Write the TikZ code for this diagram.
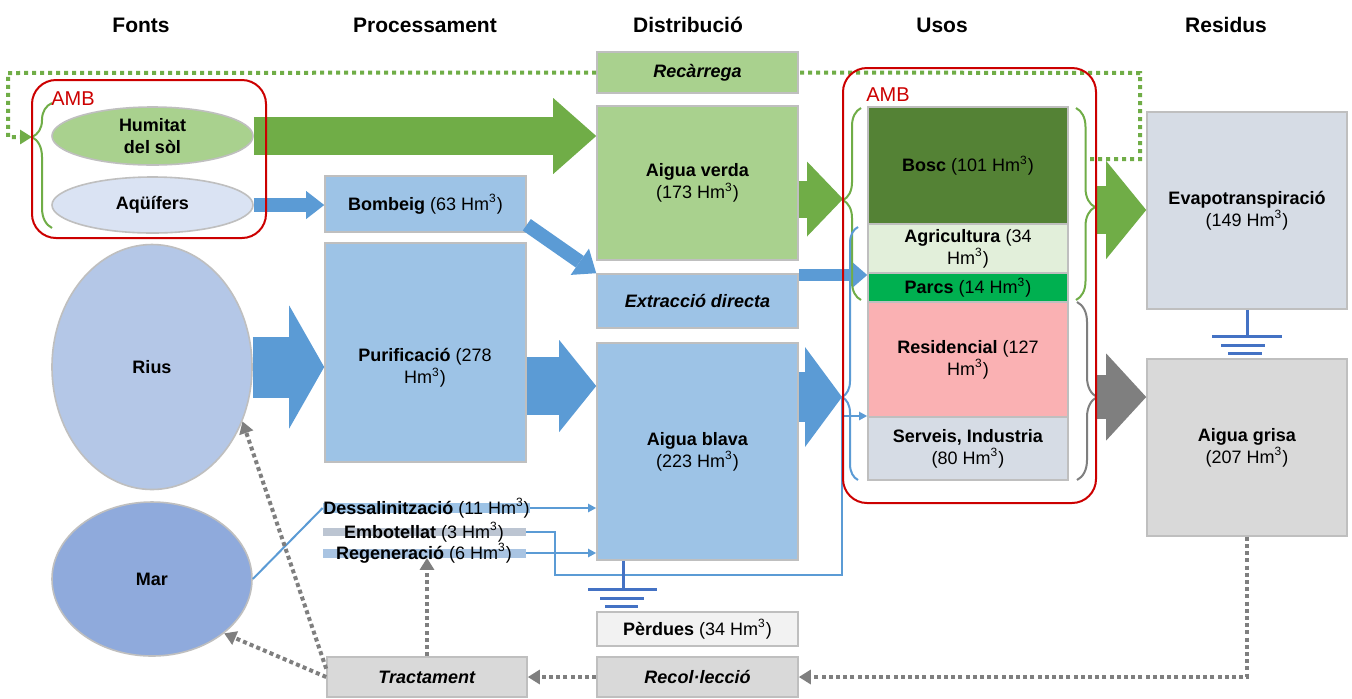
\documentclass[tikz,border=0pt]{standalone}
\usepackage{fontspec}
\setmainfont{Liberation Sans}
\usetikzlibrary{shapes.geometric,arrows.meta,decorations.pathreplacing,calc}
\definecolor{cgreen}{HTML}{70AD47}
\definecolor{cblue}{HTML}{5B9BD5}
\definecolor{cgrayar}{HTML}{7F7F7F}
\definecolor{cbord}{HTML}{BFBFBF}
\definecolor{cred}{HTML}{CC0000}
\definecolor{cverda}{HTML}{A9D18E}
\definecolor{cblau}{HTML}{9DC3E6}
\definecolor{cperd}{HTML}{F2F2F2}
\definecolor{cgris}{HTML}{D9D9D9}
\definecolor{cbosc}{HTML}{548235}
\definecolor{cagri}{HTML}{E2EFDA}
\definecolor{cparc}{HTML}{00B050}
\definecolor{cresi}{HTML}{FAB1B3}
\definecolor{cserv}{HTML}{D6DCE5}
\definecolor{caq}{HTML}{DAE3F3}
\definecolor{crius}{HTML}{B4C7E7}
\definecolor{cmar}{HTML}{8FAADC}
\definecolor{cgnd}{HTML}{4472C4}
\definecolor{cdesb}{HTML}{9DC3E6}
\definecolor{cembb}{HTML}{BCC5D2}
\definecolor{cregb}{HTML}{A9C4E2}
\newcommand{\bodyf}{\fontsize{9}{11}\selectfont}
\newcommand{\hdrf}{\fontsize{10.5}{12}\selectfont\bfseries}
\newcommand{\ambf}{\fontsize{10}{12}\selectfont}
\newcommand{\mybox}[7]{%
  \pgfmathsetmacro{\mycx}{(#2+#4)/2}%
  \pgfmathsetmacro{\mycy}{(#3+#5)/2}%
  \pgfmathsetmacro{\myw}{(#4-#2)/2}%
  \pgfmathsetmacro{\myh}{(#5-#3)/2}%
  \node[box,#6,minimum width=\myw pt,minimum height=\myh pt] (#1) at (\mycx,\mycy) {#7};}
\begin{document}
\begin{tikzpicture}[x=0.5pt,y=-0.5pt,
  box/.style={draw=cbord, line width=0.8pt, inner sep=0pt, align=center, font=\bodyf},
  ell/.style={ellipse, draw=cbord, line width=0.8pt, inner sep=0pt, align=center, font=\bodyf\bfseries},
  hdr/.style={font=\hdrf, inner sep=0pt},
  amb/.style={draw=cred, line width=1pt, rounded corners=12pt},
  ambt/.style={text=cred, font=\ambf, inner sep=0pt},
  barr/.style n args={4}{draw=#4, line width=#1pt, -{Triangle[length=#2pt,width=#3pt,line width=0pt]}},
  bline/.style={draw=cblue, line width=1pt},
  bar/.style={draw=none, inner sep=0pt},
  txt/.style={font=\bodyf, inner sep=0pt, align=center},
  gdot/.style={draw=cgreen, line width=2pt, dash pattern=on 2pt off 2pt},
  ydot/.style={draw=cgrayar, line width=2pt, dash pattern=on 2pt off 1.6pt},
  gnd/.style={draw=cgnd, line width=1.5pt},
  br/.style n args={2}{decorate, decoration={brace, amplitude=#1pt, aspect=#2}, line width=1pt},
]
\path[fill=white, use as bounding box] (0,0) rectangle (1352,698);

% headers
\node[hdr] (h1) at (141,25) {Fonts};
\node[hdr] (h2) at (425,25) {Processament};
\node[hdr] (h3) at (688,25) {Distribució};
\node[hdr] (h4) at (942,25) {Usos};
\node[hdr] (h5) at (1226,25) {Residus};

% sources
\node[ell, fill=cverda, minimum width=100.5pt, minimum height=29pt] (hum) at (152.5,136) {Humitat\\del sòl};
\node[ell, fill=caq, minimum width=100.5pt, minimum height=28pt] (aq) at (152.5,205) {Aqüífers};
\node[ell, fill=crius, minimum width=100pt, minimum height=122.5pt] (rius) at (152,367) {Rius};
\node[ell, fill=cmar, minimum width=100pt, minimum height=77pt] (mar) at (152,579) {Mar};

% processing / distribution boxes
\mybox{bomb}{325}{176}{526}{232}{fill=cblau}{\textbf{Bombeig} (63 Hm\textsuperscript{3})}
\mybox{puri}{325}{243}{526}{462}{fill=cblau}{}
\node[txt] (puritxt) at (425,368) {\textbf{Purificació} (278\\Hm\textsuperscript{3})};
\mybox{rec}{597}{52}{798}{93}{fill=cverda}{\textbf{\textit{Recàrrega}}}
\mybox{verda}{597}{106}{798}{260}{fill=cverda}{\textbf{Aigua verda}\\(173 Hm\textsuperscript{3})}
\mybox{extr}{597}{274}{798}{328}{fill=cblau}{\textbf{\textit{Extracció directa}}}
\mybox{blava}{597}{343}{798}{560}{fill=cblau}{\textbf{Aigua blava}\\(223 Hm\textsuperscript{3})}
\mybox{perd}{597}{612}{798}{646}{fill=cperd}{\textbf{Pèrdues} (34 Hm\textsuperscript{3})}
\mybox{recol}{597}{657}{798}{697}{fill=cgris}{\textbf{\textit{Recol·lecció}}}
\mybox{tract}{327}{657}{527}{697}{fill=cgris}{\textbf{\textit{Tractament}}}

% small processes
\node[bar, fill=cdesb, minimum width=103.5pt, minimum height=5pt] (desbar) at (426.5,508) {};
\node[bar, fill=cembb, minimum width=101.5pt, minimum height=4pt] (embbar) at (424.5,532) {};
\node[bar, fill=cregb, minimum width=101.5pt, minimum height=4.5pt] (regbar) at (424.5,553) {};
\node[txt] (destxt) at (426.5,508) {\textbf{Dessalinització} (11 Hm\textsuperscript{3})};
\node[txt] (embtxt) at (424,532) {\textbf{Embotellat} (3 Hm\textsuperscript{3})};
\node[txt] (regtxt) at (424,553) {\textbf{Regeneració} (6 Hm\textsuperscript{3})};

% uses
\mybox{bosc}{868}{107}{1068}{224}{fill=cbosc}{\textbf{Bosc} (101 Hm\textsuperscript{3})}
\mybox{agri}{868}{224}{1068}{273}{fill=cagri}{\textbf{Agricultura} (34\\Hm\textsuperscript{3})}
\mybox{parcs}{868}{273}{1068}{302}{fill=cparc}{\textbf{Parcs} (14 Hm\textsuperscript{3})}
\mybox{resi}{868}{302}{1068}{417}{fill=cresi}{\textbf{Residencial} (127\\Hm\textsuperscript{3})}
\mybox{serv}{868}{417}{1068}{480}{fill=cserv}{\textbf{Serveis, Industria}\\(80 Hm\textsuperscript{3})}

% residues
\mybox{evap}{1147}{112}{1347}{309}{fill=cserv}{\textbf{Evapotranspiració}\\(149 Hm\textsuperscript{3})}
\mybox{grisa}{1147}{359}{1347}{536}{fill=cgris}{\textbf{Aigua grisa}\\(207 Hm\textsuperscript{3})}

% coordinates
\coordinate (lbt) at (32,137);
\coordinate (ugt) at (843,199);
\coordinate (ubt) at (842,397);
\coordinate (rgt) at (1096,210);
\coordinate (ryt) at (1096,397);
\coordinate (gd1) at (1090,159);
\coordinate (sj) at (842,416);

% block arrows
\draw[barr={19}{21.5}{38}{cgreen}] (hum.east) -- (hum.east -| verda.west);
\draw[barr={7}{9}{14}{cblue}] (aq.east) -- (aq.east -| bomb.west);
\draw[barr={30.5}{17.5}{61.5}{cblue}] (rius.east) -- (rius.east -| puri.west);
\draw[barr={29}{18.5}{46}{cblue}] (puri.east |- 0,386) -- (blava.west |- 0,386);
\draw[barr={7}{10}{16}{cblue}] ($(bomb.south east)+(0,-8)$) -- (extr.north west);
\draw[barr={18.5}{18}{37.5}{cgreen}] (verda.east |- ugt) -- (ugt);
\draw[barr={6}{7.5}{13}{cblue}] (extr.east |- 0,275) -- (agri.west |- 0,275);
\draw[barr={25}{18.5}{50}{cblue}] (blava.east |- ubt) -- (ubt);
\draw[barr={24}{20}{49}{cgreen}] (rgt) -- (rgt -| evap.west);
\draw[barr={22}{20}{43.5}{cgrayar}] (ryt) -- (ryt -| grisa.west);

% thin blue connectors
\draw[bline] (mar.east) -- (desbar.west);
\draw[bline, -{Triangle[length=4pt,width=4pt]}] (desbar.east) -- (desbar.east -| blava.west);
\draw[bline, -{Triangle[length=4pt,width=4pt]}] (regbar.east) -- (regbar.east -| blava.west);
\draw[bline] (embbar.east) -- (555,532) -- (555,575) -- (842,575) -- (ubt);
\draw[bline, -{Triangle[length=4pt,width=4pt]}] (sj) -- (sj -| serv.west);

% ground symbols
\draw[gnd] (blava.south -| 623,0) -- (623,589);
\draw[gnd] (588,589) -- (657,589);
\draw[gnd] (600,598) -- (644,598);
\draw[gnd] (605,606) -- (638,606);
\draw[gnd] (evap.south) -- (1247,336);
\draw[gnd] (1212,336) -- (1282,336);
\draw[gnd] (1221,345) -- (1265,345);
\draw[gnd] (1228,353) -- (1262,353);

% dotted loops
\draw[gdot, -{Triangle[length=6pt,width=7pt]}] (rec.west) -- (8,73) -- (8,137) -- (lbt);
\draw[gdot] (gd1) -- (1140,159) -- (1140,73) -- (rec.east);
\draw[ydot, -{Triangle[length=6pt,width=7pt]}] (grisa.south) |- (recol.east);
\draw[ydot, -{Triangle[length=6pt,width=7pt]}] (recol.west) -- (tract.east);
\draw[ydot, -{Triangle[length=6pt,width=7pt]}] (tract.north) -- (tract.north |- regbar.south);
\draw[ydot, -{Triangle[length=6pt,width=7pt]}] ($(tract.north west)!0.3!(tract.south west)$) -- (rius.-31);
\draw[ydot, -{Triangle[length=6pt,width=7pt]}] (tract.west) -- (mar.-37);

% braces
\draw[cgreen, br={10}{0.728}] (52,228) -- (52,103);
\draw[cgreen, br={9}{0.52}] (861,300) -- (861,108);
\draw[cblue, br={8}{0.328}] (858,480) -- (858,227);
\draw[cgreen, br={9.5}{0.516}] (1076,108) -- (1076,300);
\draw[cgrayar, br={10}{0.534}] (1077,302) -- (1077,480);

% AMB frames
\draw[amb] (32,80) rectangle (266,238);
\node[ambt] (amb1) at (73,99) {AMB};
\draw[amb] (843,68) rectangle (1096,503);
\node[ambt] (amb2) at (888,95) {AMB};
\end{tikzpicture}
\end{document}
